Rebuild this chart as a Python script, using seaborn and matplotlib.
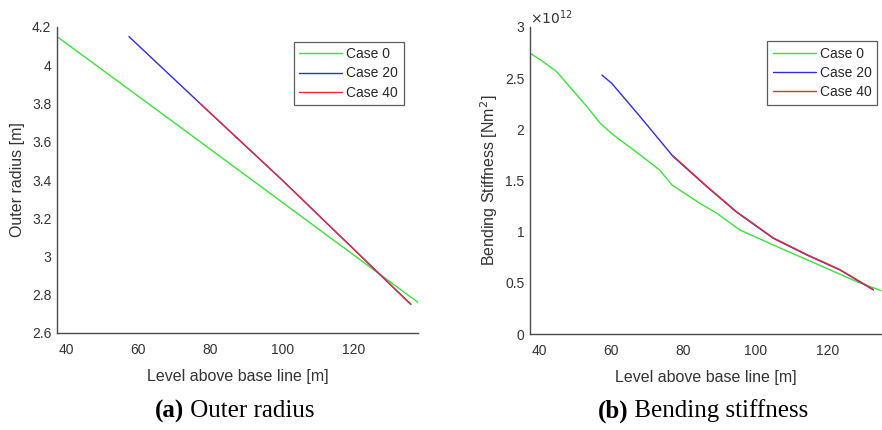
import matplotlib
matplotlib.use("Agg")
import matplotlib.pyplot as plt
import seaborn as sns
import pandas as pd
from matplotlib.ticker import FuncFormatter, MultipleLocator

# ---------------- data ----------------
cases = ["Case 0", "Case 20", "Case 40"]
colors = ["#3ce03c", "#2e2ed6", "#e0303a"]

# Outer radius [m]
r_level_c0 = [37.4, 70.0, 103.9, 137.8]
r_val_c0 = [4.15, 3.70, 3.23, 2.76]
r_level_c20 = [57.4, 77.2, 100.0, 135.8]
r_val_c20 = [4.15, 3.80, 3.40, 2.75]
r_level_c40 = [77.2, 100.0, 135.8]
r_val_c40 = [3.80, 3.40, 2.75]

# Bending stiffness [Nm^2]
s_level_c0 = [37.4, 41.1, 44.8, 53.2, 56.9, 60.6, 68.0, 73.5, 76.8, 84.6,
              89.3, 95.7, 105.0, 112.4, 119.8, 128.2, 134.9]
s_val_c0 = [2.744e12, 2.66e12, 2.564e12, 2.222e12, 2.06e12, 1.945e12, 1.75e12,
            1.60e12, 1.457e12, 1.277e12, 1.18e12, 1.017e12, 0.87e12, 0.756e12,
            0.642e12, 0.511e12, 0.425e12]
s_level_c20 = [57.4, 60.1, 68.0, 77.2, 86.5, 94.8, 105.0, 114.3, 123.5, 132.8]
s_val_c20 = [2.53e12, 2.45e12, 2.124e12, 1.733e12, 1.44e12, 1.19e12, 0.935e12,
             0.772e12, 0.626e12, 0.43e12]
s_level_c40 = [77.2, 86.5, 94.8, 105.0, 114.3, 123.5, 132.8]
s_val_c40 = [1.74e12, 1.445e12, 1.195e12, 0.94e12, 0.777e12, 0.63e12, 0.435e12]

r_ticks = [2.6, 2.8, 3.0, 3.2, 3.4, 3.6, 3.8, 4.0, 4.2]
x_ticks = [40, 60, 80, 100, 120]
captions = [("(a)", " Outer radius"), ("(b)", " Bending stiffness")]

def make_df(levels, vals):
    rows = []
    for c, lv, vv in zip(cases, levels, vals):
        for l, v in zip(lv, vv):
            rows.append({"level": l, "value": v, "case": c})
    return pd.DataFrame(rows)

df_r = make_df([r_level_c0, r_level_c20, r_level_c40], [r_val_c0, r_val_c20, r_val_c40])
df_s = make_df([s_level_c0, s_level_c20, s_level_c40], [s_val_c0, s_val_c20, s_val_c40])

# ---------------- style ----------------
sns.set_theme(style="white")
plt.rcParams["font.family"] = ["Liberation Sans", "DejaVu Sans"]
gray = "#4a4a4a"
plt.rcParams.update({
    "axes.edgecolor": gray, "xtick.color": gray, "ytick.color": gray,
    "axes.labelcolor": "#333333", "xtick.labelcolor": "#333333",
    "ytick.labelcolor": "#333333",
    "xtick.direction": "in", "ytick.direction": "in",
    "xtick.major.size": 3, "ytick.major.size": 3,
    "xtick.major.width": 0.8, "ytick.major.width": 0.8,
    "axes.linewidth": 1.0,
})

W, H = 882, 430
fig = plt.figure(figsize=(W / 100, H / 100), dpi=100)
ax1 = fig.add_axes([57 / W, (H - 333) / H, (418 - 57) / W, (333 - 27) / H])
ax2 = fig.add_axes([530 / W, (H - 334) / H, (882 - 530) / W, (334 - 27) / H])

palette = dict(zip(cases, colors))

for ax, df in [(ax1, df_r), (ax2, df_s)]:
    sns.lineplot(data=df, x="level", y="value", hue="case", palette=palette,
                 ax=ax, linewidth=1.0, sort=False, estimator=None)
    for side in ["top", "right"]:
        ax.spines[side].set_visible(False)
    ax.set_xticks(x_ticks)
    ax.tick_params(labelsize=10, pad=4)
    ax.tick_params(axis="x", pad=7.5)
    ax.set_xlabel("Level above base line [m]", fontsize=11.5, labelpad=8)
    ax.get_legend().remove()

ax1.set_xlim(37.4, 137.8)
ax1.set_ylim(2.6, 4.2)
ax1.set_yticks(r_ticks)
ax1.yaxis.set_major_formatter(FuncFormatter(lambda v, p: f"{v:g}"))
ax1.set_ylabel("Outer radius [m]", fontsize=11.5, labelpad=5)

ax2.set_xlim(37.4, 135.2)
ax2.set_ylim(0, 3e12)
ax2.yaxis.set_major_locator(MultipleLocator(0.5e12))
ax2.yaxis.set_major_formatter(FuncFormatter(lambda v, p: f"{v / 1e12:g}"))
ax2.set_ylabel("Bending Stiffness [Nm$^2$]", fontsize=11.5, labelpad=3.5)
ax2.text(0.0, 1.0, r"$\times10^{12}$", transform=ax2.transAxes, fontsize=10,
         color="#333333", ha="left", va="bottom")

leg_kw = dict(frameon=True, fancybox=False, fontsize=10, handlelength=3.1,
              borderpad=0.4, labelspacing=0.37, handletextpad=0.3,
              borderaxespad=0)
for ax, anchor in [(ax1, (0.961, 0.952)), (ax2, (0.987, 0.954))]:
    hh, ll = ax.get_legend_handles_labels()
    leg = ax.legend(hh, ll, loc="upper right", bbox_to_anchor=anchor, **leg_kw)
    leg.get_frame().set_edgecolor("#333333")
    leg.get_frame().set_linewidth(0.9)
    for line in leg.get_lines():
        line.set_linewidth(1.0)

# captions: bold label + regular text, centred as a whole
serif = ["Liberation Serif", "DejaVu Serif"]
fig.canvas.draw()
renderer = fig.canvas.get_renderer()
for (lab, rest), cx in zip(captions, [235, 703]):
    cy = 1 - 411 / H
    t1 = fig.text(0, cy, lab, fontsize=18, fontweight="bold", family=serif,
                  ha="left", va="center", color="black")
    t2 = fig.text(0, cy, rest, fontsize=18, family=serif,
                  ha="left", va="center", color="black")
    w1 = t1.get_window_extent(renderer).width
    w2 = t2.get_window_extent(renderer).width
    x0 = cx - (w1 + w2) / 2
    t1.set_x(x0 / W)
    t2.set_x((x0 + w1) / W)

plt.savefig("out.png", dpi=100)
